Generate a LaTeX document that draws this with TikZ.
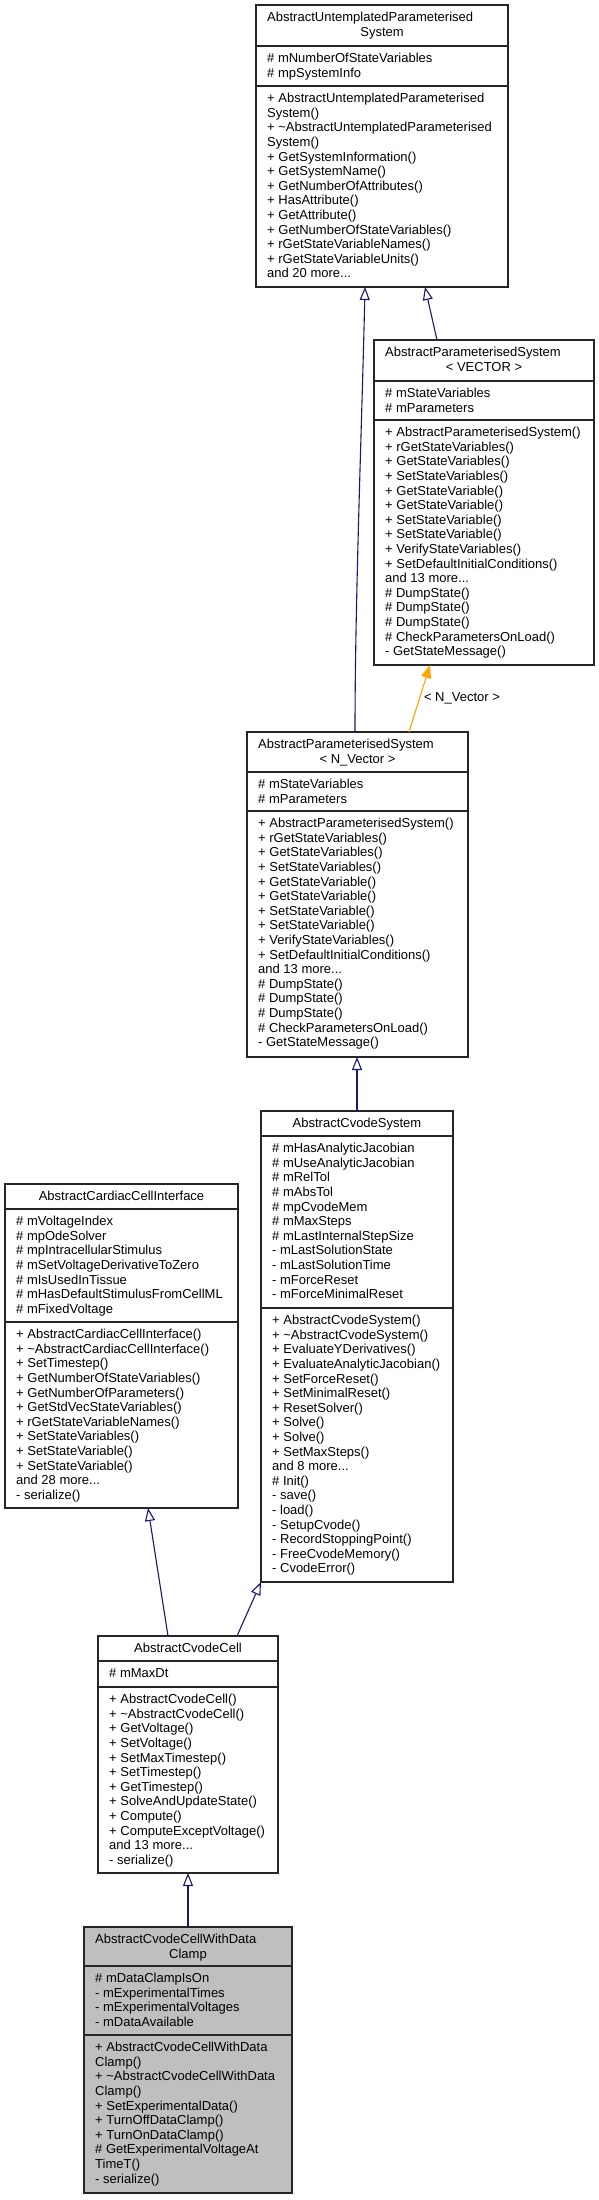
\documentclass[tikz,border=0pt]{standalone}
\usepackage{fontspec}
\setmainfont{Liberation Sans}
\usetikzlibrary{arrows.meta}
\definecolor{dnavy}{HTML}{191970}
\definecolor{dorange}{HTML}{FFA500}
\definecolor{boxgray}{HTML}{BFBFBF}
\newcommand\firstln{\rule{0pt}{11.8pt}}
\begin{document}
\begin{tikzpicture}[x=1pt,y=-1pt,
  classbox/.style={draw=black!85, line width=1.1pt, fill=white, inner sep=0pt, outer sep=0pt, anchor=north west},
  sepline/.style={draw=black!85, line width=1.1pt},
  txt/.style={inner sep=0pt, anchor=north west, align=left, font=\fontsize{13}{14.6}\selectfont},
  ttl/.style={inner sep=0pt, anchor=base west, font=\fontsize{13}{14.6}\selectfont},
  ttc/.style={inner sep=0pt, anchor=base, font=\fontsize{13}{14.6}\selectfont},
  inh/.style={draw=dnavy, line width=1.1pt, -{Triangle[open, length=13pt, width=10pt, line width=1.1pt]}},
  tmpl/.style={draw=dorange, line width=1.1pt, -{Triangle[length=13pt, width=10pt]}}]
\fill[white] (0,0) rectangle (599,2200);
\useasboundingbox (0,0) rectangle (599,2200);

% ---------- A: AbstractUntemplatedParameterisedSystem
\node[classbox, minimum width=252pt, minimum height=282pt] (A) at (256,5) {};
\draw[sepline] (256,46) -- (508,46);
\draw[sepline] (256,86) -- (508,86);
\node[ttl] (At1) at (267,21.5) {AbstractUntemplatedParameterised};
\node[ttc] (At2) at (382,36.1) {System};
\node[txt] (Aa) at (267,50.7) {\firstln\# mNumberOfStateVariables\\\# mpSystemInfo};
\node[txt] (Am) at (267,90.7) {\firstln+ AbstractUntemplatedParameterised\\System()\\+ \textasciitilde AbstractUntemplatedParameterised\\System()\\+ GetSystemInformation()\\+ GetSystemName()\\+ GetNumberOfAttributes()\\+ HasAttribute()\\+ GetAttribute()\\+ GetNumberOfStateVariables()\\+ rGetStateVariableNames()\\+ rGetStateVariableUnits()\\and 20 more...};

% ---------- B: AbstractParameterisedSystem< VECTOR >
\node[classbox, minimum width=220pt, minimum height=325pt] (B) at (374,340) {};
\draw[sepline] (374,381) -- (594,381);
\draw[sepline] (374,420) -- (594,420);
\node[ttl] (Bt1) at (385,356.5) {AbstractParameterisedSystem};
\node[ttc] (Bt2) at (484,371.1) {< VECTOR >};
\node[txt] (Ba) at (385,385.7) {\firstln\# mStateVariables\\\# mParameters};
\node[txt] (Bm) at (385,424.7) {\firstln+ AbstractParameterisedSystem()\\+ rGetStateVariables()\\+ GetStateVariables()\\+ SetStateVariables()\\+ GetStateVariable()\\+ GetStateVariable()\\+ SetStateVariable()\\+ SetStateVariable()\\+ VerifyStateVariables()\\+ SetDefaultInitialConditions()\\and 13 more...\\\# DumpState()\\\# DumpState()\\\# DumpState()\\\# CheckParametersOnLoad()\\- GetStateMessage()};

% ---------- C: AbstractParameterisedSystem< N_Vector >
\node[classbox, minimum width=221pt, minimum height=325pt] (C) at (247,732) {};
\draw[sepline] (247,772) -- (468,772);
\draw[sepline] (247,811) -- (468,811);
\node[ttl] (Ct1) at (258,748.5) {AbstractParameterisedSystem};
\node[ttc] (Ct2) at (357.5,763.1) {< N\_Vector >};
\node[txt] (Ca) at (258,776.7) {\firstln\# mStateVariables\\\# mParameters};
\node[txt] (Cm) at (258,815.7) {\firstln+ AbstractParameterisedSystem()\\+ rGetStateVariables()\\+ GetStateVariables()\\+ SetStateVariables()\\+ GetStateVariable()\\+ GetStateVariable()\\+ SetStateVariable()\\+ SetStateVariable()\\+ VerifyStateVariables()\\+ SetDefaultInitialConditions()\\and 13 more...\\\# DumpState()\\\# DumpState()\\\# DumpState()\\\# CheckParametersOnLoad()\\- GetStateMessage()};

% ---------- D: AbstractCvodeSystem
\node[classbox, minimum width=192pt, minimum height=471pt] (D) at (261,1111) {};
\draw[sepline] (261,1136) -- (453,1136);
\draw[sepline] (261,1308) -- (453,1308);
\node[ttc] (Dt) at (357,1127.5) {AbstractCvodeSystem};
\node[txt] (Da) at (272,1140.7) {\firstln\# mHasAnalyticJacobian\\\# mUseAnalyticJacobian\\\# mRelTol\\\# mAbsTol\\\# mpCvodeMem\\\# mMaxSteps\\\# mLastInternalStepSize\\- mLastSolutionState\\- mLastSolutionTime\\- mForceReset\\- mForceMinimalReset};
\node[txt] (Dm) at (272,1312.7) {\firstln+ AbstractCvodeSystem()\\+ \textasciitilde AbstractCvodeSystem()\\+ EvaluateYDerivatives()\\+ EvaluateAnalyticJacobian()\\+ SetForceReset()\\+ SetMinimalReset()\\+ ResetSolver()\\+ Solve()\\+ Solve()\\+ SetMaxSteps()\\and 8 more...\\\# Init()\\- save()\\- load()\\- SetupCvode()\\- RecordStoppingPoint()\\- FreeCvodeMemory()\\- CvodeError()};

% ---------- E: AbstractCardiacCellInterface
\node[classbox, minimum width=233pt, minimum height=324pt] (E) at (5,1184) {};
\draw[sepline] (5,1209) -- (238,1209);
\draw[sepline] (5,1322) -- (238,1322);
\node[ttc] (Et) at (121.5,1200.5) {AbstractCardiacCellInterface};
\node[txt] (Ea) at (16,1213.7) {\firstln\# mVoltageIndex\\\# mpOdeSolver\\\# mpIntracellularStimulus\\\# mSetVoltageDerivativeToZero\\\# mIsUsedInTissue\\\# mHasDefaultStimulusFromCellML\\\# mFixedVoltage};
\node[txt] (Em) at (16,1326.7) {\firstln+ AbstractCardiacCellInterface()\\+ \textasciitilde AbstractCardiacCellInterface()\\+ SetTimestep()\\+ GetNumberOfStateVariables()\\+ GetNumberOfParameters()\\+ GetStdVecStateVariables()\\+ rGetStateVariableNames()\\+ SetStateVariables()\\+ SetStateVariable()\\+ SetStateVariable()\\and 28 more...\\- serialize()};

% ---------- F: AbstractCvodeCell
\node[classbox, minimum width=180pt, minimum height=237pt] (F) at (98,1636) {};
\draw[sepline] (98,1661) -- (278,1661);
\draw[sepline] (98,1687) -- (278,1687);
\node[ttc] (Ft) at (188,1652.5) {AbstractCvodeCell};
\node[txt] (Fa) at (109,1665.7) {\firstln\# mMaxDt};
\node[txt] (Fm) at (109,1691.7) {\firstln+ AbstractCvodeCell()\\+ \textasciitilde AbstractCvodeCell()\\+ GetVoltage()\\+ SetVoltage()\\+ SetMaxTimestep()\\+ SetTimestep()\\+ GetTimestep()\\+ SolveAndUpdateState()\\+ Compute()\\+ ComputeExceptVoltage()\\and 13 more...\\- serialize()};

% ---------- G: AbstractCvodeCellWithDataClamp
\node[classbox, fill=boxgray, minimum width=208pt, minimum height=266pt] (G) at (84,1927) {};
\draw[sepline] (84,1966) -- (292,1966);
\draw[sepline] (84,2035) -- (292,2035);
\node[ttl] (Gt1) at (95,1943.5) {AbstractCvodeCellWithData};
\node[ttc] (Gt2) at (188,1958.1) {Clamp};
\node[txt] (Ga) at (95,1970.7) {\firstln\# mDataClampIsOn\\- mExperimentalTimes\\- mExperimentalVoltages\\- mDataAvailable};
\node[txt] (Gm) at (95,2039.7) {\firstln+ AbstractCvodeCellWithData\\Clamp()\\+ \textasciitilde AbstractCvodeCellWithData\\Clamp()\\+ SetExperimentalData()\\+ TurnOffDataClamp()\\+ TurnOnDataClamp()\\\# GetExperimentalVoltageAt\\TimeT()\\- serialize()};

% ---------- connector end points
\coordinate (pA1) at (365,287);
\coordinate (pA2) at (425,287);
\coordinate (pB1) at (437,340);
\coordinate (pB2) at (430,665);
\coordinate (pC1) at (355,732);
\coordinate (pC2) at (409,732);
\coordinate (pC3) at (357,1057);
\coordinate (pD1) at (357,1111);
\coordinate (pD2) at (261,1582);
\coordinate (pE1) at (148,1508);
\coordinate (pF1) at (168,1636);
\coordinate (pF2) at (237,1636);
\coordinate (pF3) at (188,1873);
\coordinate (pG1) at (188,1927);

% ---------- connectors
\draw[inh] (pC1) .. controls (355,600) and (362,420) .. (pA1);
\draw[inh] (pB1) -- (pA2);
\draw[tmpl] (pC2) -- (pB2) node[pos=0.5, anchor=west, inner sep=0pt, xshift=4pt, font=\fontsize{13}{14.6}\selectfont] (lbl) {< N\_Vector >};
\draw[inh] (pD1) -- (pC3);
\draw[inh] (pF1) -- (pE1);
\draw[inh] (pF2) -- (pD2);
\draw[inh] (pG1) -- (pF3);
\end{tikzpicture}
\end{document}
